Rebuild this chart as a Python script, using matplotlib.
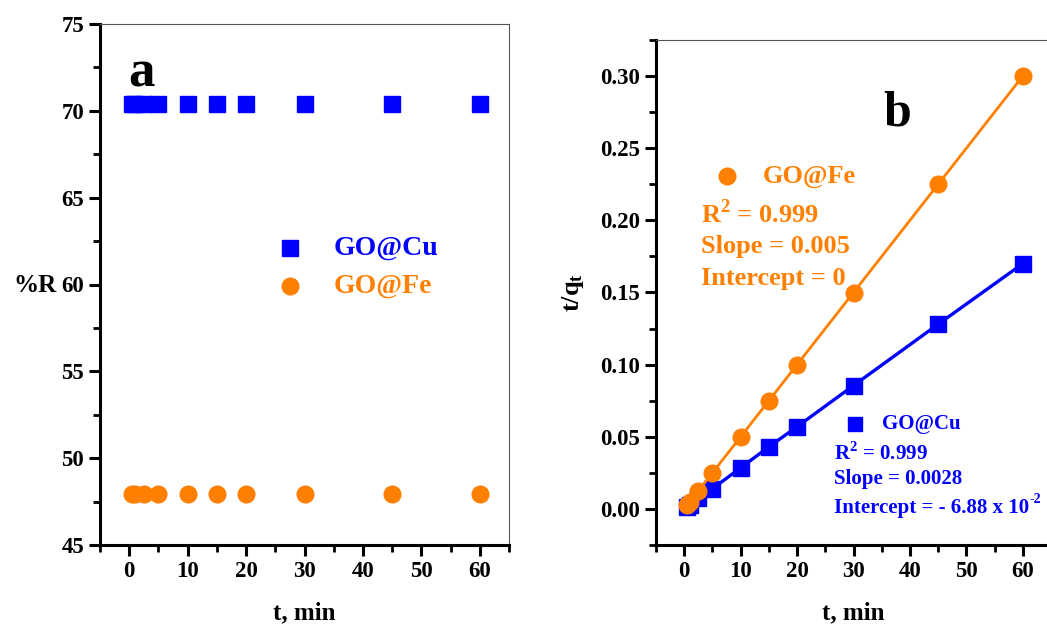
import matplotlib
matplotlib.use("Agg")
import matplotlib.pyplot as plt
from matplotlib.ticker import MultipleLocator

plt.rcParams['font.family'] = ['Liberation Serif', 'DejaVu Serif']
plt.rcParams['font.weight'] = 'bold'
plt.rcParams['mathtext.fontset'] = 'custom'
plt.rcParams['mathtext.rm'] = 'Liberation Serif:bold'
plt.rcParams['mathtext.bf'] = 'Liberation Serif:bold'

t = [0.5, 1, 2.5, 5, 10, 15, 20, 30, 45, 60]
R_cu = [70.4] * 10
R_fe = [47.95] * 10
tq_fe = [0.0025, 0.005, 0.0125, 0.025, 0.05, 0.075, 0.10, 0.15, 0.225, 0.30]
tq_cu = [0.0015, 0.003, 0.0075, 0.014, 0.0285, 0.043, 0.057, 0.0855, 0.128, 0.170]

BLUE = '#0000FF'
ORANGE = '#FF8000'

fig = plt.figure(figsize=(10.47, 6.27), dpi=100)
W, H = 1047, 627

def pos(l, r, top, bot):
    return [l / W, 1 - bot / H, (r - l) / W, (bot - top) / H]

def style(ax):
    for s in ['left', 'bottom']:
        ax.spines[s].set_linewidth(2.2)
    for s in ['top', 'right']:
        ax.spines[s].set_linewidth(0.8)
        ax.spines[s].set_color('#555555')
    ax.tick_params(which='major', direction='out', length=8, width=2.2,
                   labelsize=16.5, top=False, right=False)
    ax.tick_params(which='minor', direction='out', length=5, width=2.0,
                   top=False, right=False)
    for lab in ax.get_xticklabels() + ax.get_yticklabels():
        lab.set_fontweight('bold')

# Panel a
axa = fig.add_axes(pos(100, 509, 24, 545))
axa.plot(t, R_cu, 's', color=BLUE, markersize=11.5, linestyle='none')
axa.plot(t, R_fe, 'o', color=ORANGE, markersize=12, linestyle='none')
axa.set_xlim(-5, 65)
axa.set_ylim(45, 75)
axa.xaxis.set_major_locator(MultipleLocator(10))
axa.xaxis.set_minor_locator(MultipleLocator(5))
axa.yaxis.set_major_locator(MultipleLocator(5))
axa.yaxis.set_minor_locator(MultipleLocator(2.5))
axa.set_xticks([0, 10, 20, 30, 40, 50, 60])
style(axa)
axa.set_xlabel('t, min', fontsize=18, fontweight='bold', labelpad=14)
fig.text(13 / W, 1 - 285 / H, '%R', fontsize=18, fontweight='bold',
         ha='left', va='center')
axa.text(0.07, 0.905, 'a', transform=axa.transAxes, fontsize=38,
         fontweight='bold', ha='left', va='center')
# legend a
axa.plot([27.5], [62.1], 's', color=BLUE, markersize=11.5)
axa.plot([27.5], [59.9], 'o', color=ORANGE, markersize=12)
axa.text(35, 62.1, 'GO@Cu', color=BLUE, fontsize=20, fontweight='bold', va='center')
axa.text(35, 59.9, 'GO@Fe', color=ORANGE, fontsize=20, fontweight='bold', va='center')

# Panel b
axb = fig.add_axes(pos(656, 1051, 40, 545))
axb.plot(t, tq_cu, 's-', color=BLUE, markersize=11.5, linewidth=2.4)
axb.plot(t, tq_fe, 'o-', color=ORANGE, markersize=12, linewidth=2.0)
axb.set_xlim(-5, 65)
axb.set_ylim(-0.025, 0.325)
axb.set_xticks([0, 10, 20, 30, 40, 50, 60])
axb.xaxis.set_minor_locator(MultipleLocator(5))
axb.yaxis.set_major_locator(MultipleLocator(0.05))
axb.yaxis.set_minor_locator(MultipleLocator(0.025))
axb.yaxis.set_major_formatter(matplotlib.ticker.FormatStrFormatter('%.2f'))
style(axb)
axb.set_xlabel('t, min', fontsize=18, fontweight='bold', labelpad=14)
axb.set_ylabel(r'$\mathbf{t/q_t}$', fontsize=19, labelpad=10)
axb.text(0.61, 0.855, 'b', transform=axb.transAxes, fontsize=36,
         fontweight='bold', ha='center', va='center')

# legend/annotation Fe
axb.plot([7.5], [0.2305], 'o', color=ORANGE, markersize=12)
axb.text(14.0, 0.2305, 'GO@Fe', color=ORANGE, fontsize=19, fontweight='bold', va='center')
axb.text(3.0, 0.2048, r'R$^{\mathbf{2}}$ = 0.999', color=ORANGE, fontsize=19,
         fontweight='bold', va='center')
axb.text(3.0, 0.1819, 'Slope = 0.005', color=ORANGE, fontsize=19,
         fontweight='bold', va='center')
axb.text(3.0, 0.1597, 'Intercept = 0', color=ORANGE, fontsize=19,
         fontweight='bold', va='center')

# legend/annotation Cu
axb.plot([30.2], [0.0587], 's', color=BLUE, markersize=10)
axb.text(35.0, 0.0587, 'GO@Cu', color=BLUE, fontsize=15, fontweight='bold', va='center')
axb.text(26.5, 0.0385, r'R$^{\mathbf{2}}$ = 0.999', color=BLUE, fontsize=15,
         fontweight='bold', va='center')
axb.text(26.5, 0.0205, 'Slope = 0.0028', color=BLUE, fontsize=15,
         fontweight='bold', va='center')
tint = axb.text(26.5, 0.0003, 'Intercept = - 6.88 x 10', color=BLUE,
                fontsize=15, fontweight='bold', va='center')
axb.annotate('-2', xy=(1.0, 0.62), xycoords=tint, xytext=(0.5, 0),
             textcoords='offset points', color=BLUE, fontsize=10,
             fontweight='bold', ha='left', va='bottom')

fig.savefig('out.png', dpi=100)
